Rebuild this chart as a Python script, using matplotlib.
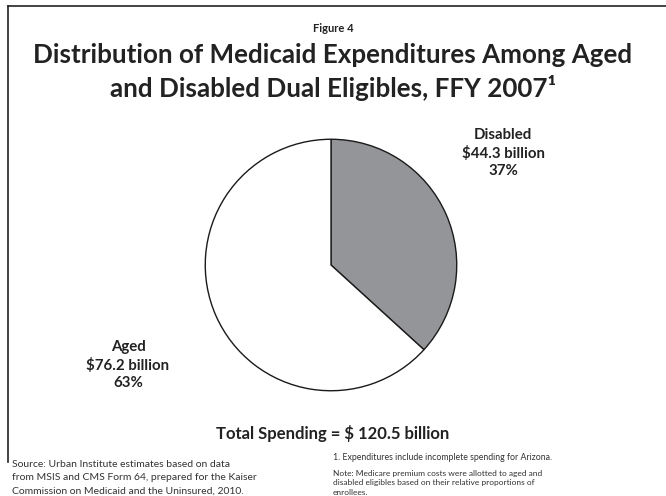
import matplotlib
matplotlib.use('Agg')
import matplotlib.pyplot as plt
from matplotlib.lines import Line2D

plt.rcParams['font.family'] = ['Lato', 'DejaVu Sans']

W, H = 666, 496

groups = ['Disabled', 'Aged']
spending = [44.3, 76.2]   # billions of dollars
shares = ['37%', '63%']
colors = ['#939598', '#ffffff']
total = 120.5


def fx(x):
    return x / W


def fy(y):
    return 1 - y / H


fig = plt.figure(figsize=(W / 100, H / 100), dpi=100)

# frame lines along the top and left edge
fig.add_artist(Line2D([fx(8), fx(8)], [fy(6), fy(462)], color='#222222', lw=1.2))
fig.add_artist(Line2D([fx(8), 1], [fy(6), fy(6)], color='#222222', lw=1.2))

# pie
cx, cy, r = 331, 265, 127
ax = fig.add_axes([fx(cx - r), fy(cy + r), 2 * r / W, 2 * r / H])
ax.pie(spending, colors=colors, startangle=90, counterclock=False,
       wedgeprops=dict(edgecolor='#1a1a1a', linewidth=1.0))
ax.set_xlim(-1.01, 1.01)
ax.set_ylim(-1.01, 1.01)
ax.set_aspect('auto')
ax.axis('off')

fig.text(0.5, fy(29), 'Figure 4', ha='center', va='center',
         fontsize=8, fontweight='bold', color='#222222')
fig.text(0.5, fy(55), 'Distribution of Medicaid Expenditures Among Aged',
         ha='center', va='center', fontsize=18.7, fontweight='bold', color='#222222')
fig.text(0.5, fy(88), 'and Disabled Dual Eligibles, FFY 2007\u00b9',
         ha='center', va='center', fontsize=18.7, fontweight='bold', color='#222222')

label_pos = [(503, 153), (128, 365)]
for name, val, pct, (x, y) in zip(groups, spending, shares, label_pos):
    fig.text(fx(x), fy(y), '%s\n$%.1f billion\n%s' % (name, val, pct),
             ha='center', va='center', fontsize=10.8, fontweight='bold',
             color='#222222', linespacing=1.3)

fig.text(0.5, fy(433), 'Total Spending = $ %.1f billion' % total,
         ha='center', va='center', fontsize=12, fontweight='bold', color='#222222')

fig.text(fx(12), fy(478),
         'Source: Urban Institute estimates based on data\n'
         'from MSIS and CMS Form 64, prepared for the Kaiser\n'
         'Commission on Medicaid and the Uninsured, 2010.',
         ha='left', va='center', fontsize=7.5, color='#333333', linespacing=1.6)
fig.text(fx(333), fy(458), '1. Expenditures include incomplete spending for Arizona.',
         ha='left', va='center', fontsize=6.3, color='#333333')
fig.text(fx(333), fy(483),
         'Note: Medicare premium costs were allotted to aged and\n'
         'disabled eligibles based on their relative proportions of\n'
         'enrollees.',
         ha='left', va='center', fontsize=6, color='#333333', linespacing=1.45)

fig.savefig('out.png', dpi=100)
